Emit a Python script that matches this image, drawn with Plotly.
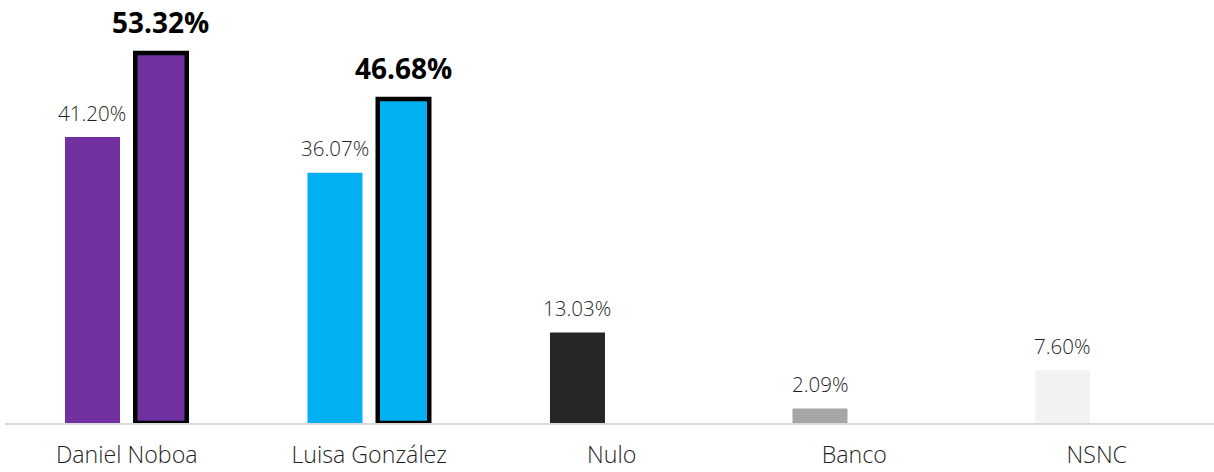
import plotly.graph_objects as go

categories = ["Daniel Noboa", "Luisa González", "Nulo", "Banco", "NSNC"]
total_votes = [41.20, 36.07, 13.03, 2.09, 7.60]
valid_votes = [53.32, 46.68, None, None, None]
total_colors = ["#7030A0", "#00B0F0", "#262626", "#A6A6A6", "#F2F2F2"]
valid_colors = ["#7030A0", "#00B0F0", "#262626", "#A6A6A6", "#F2F2F2"]

FONT = "Open Sans"
SLOT_PX = 68.5

fig = go.Figure()
fig.add_trace(go.Bar(
    x=categories, y=total_votes, width=0.2268,
    marker=dict(color=total_colors, line=dict(width=0)),
    hoverinfo="skip", showlegend=False,
))
fig.add_trace(go.Bar(
    x=categories, y=valid_votes, width=0.2124,
    marker=dict(color=valid_colors, line=dict(width=4.5, color="#000000")),
    hoverinfo="skip", showlegend=False,
))

annotations = []
for c, v in zip(categories, total_votes):
    annotations.append(dict(
        x=c, y=v, xref="x", yref="y", text=f"{v:.2f}%", showarrow=False,
        xshift=-SLOT_PX / 2, yshift=24.5, yanchor="middle", xanchor="center",
        font=dict(family=FONT, size=20.5, color="#1f1f1f", weight=300),
    ))
for c, v in zip(categories, valid_votes):
    if v is None:
        continue
    annotations.append(dict(
        x=c, y=v, xref="x", yref="y", text=f"<b>{v:.2f}%</b>", showarrow=False,
        xshift=SLOT_PX / 2, yshift=31, yanchor="middle", xanchor="center",
        font=dict(family=FONT, size=28, color="#000000"),
    ))

fig.update_layout(
    width=1214, height=472,
    margin=dict(l=5, r=0, t=0, b=49, autoexpand=False),
    paper_bgcolor="white", plot_bgcolor="white",
    barmode="group", bargap=0.435, bargroupgap=0,
    annotations=annotations,
    xaxis=dict(
        type="category", range=[-0.502, 4.4835], automargin=False,
        showline=True, linecolor="#D9D9D9", linewidth=2,
        showgrid=False, zeroline=False, ticks="",
        ticklabelstandoff=10,
        tickfont=dict(family=FONT, size=23.2, color="#1f1f1f", weight=300),
        fixedrange=True,
    ),
    yaxis=dict(
        range=[0, 60.95], visible=False, showgrid=False, zeroline=False,
        fixedrange=True, automargin=False,
    ),
)

fig.write_html(
    "out.html",
    config={"displayModeBar": False},
    post_script="document.body.style.margin='0';document.body.style.overflow='hidden';",
)
